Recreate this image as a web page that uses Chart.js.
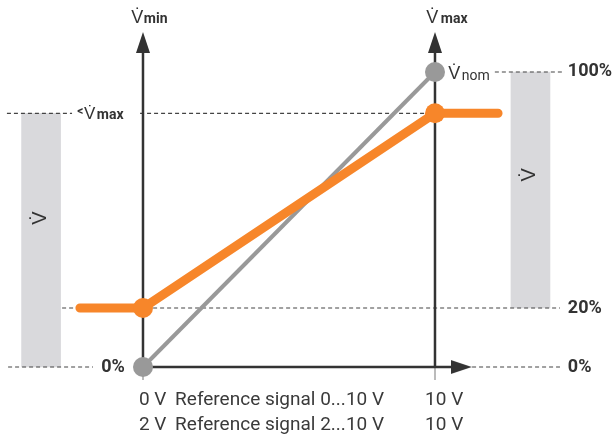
<!DOCTYPE html>
<html>
<head>
<meta charset="utf-8">
<script src="https://cdn.jsdelivr.net/npm/chart.js@4.4.1/dist/chart.umd.min.js"></script>
<style>
  html, body { margin: 0; padding: 0; background: #fff; }
  #wrap { width: 616px; height: 441px; }
</style>
</head>
<body>
<div id="wrap"><canvas id="chart"></canvas></div>
<script>
// x = reference signal (V, 0..10 scale), y = flow in % of V-nom
var nominalSignal = [0, 10];
var nominalFlow = [0, 100];
var limitedSignal = [-2.16, 0, 10, 12.16];
var limitedFlow = [20, 20, 86, 86];

// grey range bars beside the plot
var rangeBarSignal = [-3.49, 13.27];
var rangeBarFlow = [[0, 86], [20, 100]];

// dashed level lines
var levelFlow = [0, 0, 20, 86, 86, 100];
var levelFrom = [-4.62, 11.27, -2.77, -4.66, -0.1, 12.05];
var levelTo = [-1.71, 14.28, 14.28, -2.43, 10, 14.38];

var percentTicks = ["0%", "100%", "20%", "0%"];
var signalTexts = [
    ["0 V", "Reference signal 0...10 V", "10 V"],
    ["2 V", "Reference signal 2...10 V", "10 V"]
];

var DOT = "V\u0307";
var FONT = "Roboto, 'Liberation Sans', sans-serif";

function xy(xs, ys) {
    return xs.map(function (x, i) { return { x: x, y: ys[i] }; });
}

// arrow head drawn pointing up, used as a point style
function makeArrow() {
    var c = document.createElement("canvas");
    c.width = 14; c.height = 21;
    var g = c.getContext("2d");
    g.fillStyle = "#333";
    g.beginPath();
    g.moveTo(7, 0);
    g.lineTo(14, 21);
    g.lineTo(0, 21);
    g.closePath();
    g.fill();
    return c;
}
var arrow = makeArrow();

var labels = [
    { text: DOT, x: -0.4, y: 116.6, font: "18px " + FONT },
    { text: "min", x: 0.03, y: 116.6, font: "bold 14px " + FONT },
    { text: DOT, x: 9.7, y: 116.6, font: "18px " + FONT },
    { text: "max", x: 10.2, y: 116.6, font: "bold 14px " + FONT },
    { text: DOT, x: 10.45, y: 97.6, font: "18px " + FONT },
    { text: "nom", x: 10.92, y: 97.3, font: "14px " + FONT },
    { text: "<", x: -2.25, y: 85.5, font: "bold 12px " + FONT },
    { text: DOT, x: -2.02, y: 84.1, font: "17px " + FONT },
    { text: "max", x: -1.58, y: 84.1, font: "bold 14px " + FONT },
    { text: percentTicks[0], x: -0.62, y: 0, font: "bold 18px " + FONT, align: "right", base: "middle" },
    { text: percentTicks[1], x: 14.55, y: 100, font: "bold 18px " + FONT, base: "middle" },
    { text: percentTicks[2], x: 14.55, y: 20, font: "bold 18px " + FONT, base: "middle" },
    { text: percentTicks[3], x: 14.55, y: 0, font: "bold 18px " + FONT, base: "middle" },
    { text: DOT, x: -3.49, y: 50.5, font: "20px " + FONT, align: "center", base: "middle", rot: -Math.PI / 2 },
    { text: DOT, x: 13.27, y: 65.1, font: "20px " + FONT, align: "center", base: "middle", rot: -Math.PI / 2 }
];
var textCols = [-0.14, 1.1, 9.66];
var textRows = [-11.2, -19.7];
signalTexts.forEach(function (row, r) {
    row.forEach(function (t, c) {
        labels.push({ text: t, x: textCols[c], y: textRows[r], font: "19px " + FONT, color: "#3a3a3a", base: "middle" });
    });
});

var textPlugin = {
    id: "texts",
    afterDatasetsDraw: function (chart) {
        var ctx = chart.ctx, xs = chart.scales.x, ys = chart.scales.y;
        labels.forEach(function (l) {
            ctx.save();
            ctx.font = l.font;
            ctx.fillStyle = l.color || "#333";
            ctx.textAlign = l.align || "left";
            ctx.textBaseline = l.base || "alphabetic";
            ctx.translate(xs.getPixelForValue(l.x), ys.getPixelForValue(l.y));
            if (l.rot) ctx.rotate(l.rot);
            ctx.fillText(l.text, 0, 0);
            ctx.restore();
        });
    }
};

var datasets = [];

datasets.push({
    type: "bar",
    data: rangeBarSignal.map(function (x, i) { return { x: x, y: rangeBarFlow[i] }; }),
    backgroundColor: "#d9d9dc",
    barThickness: 39,
    order: 10
});

levelFlow.forEach(function (lv, i) {
    datasets.push({
        data: [{ x: levelFrom[i], y: lv }, { x: levelTo[i], y: lv }],
        borderColor: "#444",
        borderWidth: 1.2,
        borderDash: [4, 3],
        pointRadius: 0,
        order: 8
    });
});

// small stubs under the x axis
[0, 10].forEach(function (x) {
    datasets.push({
        data: [{ x: x, y: 0 }, { x: x, y: -4.4 }],
        borderColor: "#bbb",
        borderWidth: 2,
        pointRadius: 0,
        order: 7
    });
});

// axes with arrow heads
[[{ x: 0, y: 0 }, { x: 0, y: 110 }, 0],
 [{ x: 10, y: 0 }, { x: 10, y: 110 }, 0],
 [{ x: 0, y: 0 }, { x: 10.9, y: 0 }, 90]].forEach(function (a) {
    datasets.push({
        data: [a[0], a[1]],
        borderColor: "#333",
        borderWidth: 2.5,
        pointRadius: [0, 10],
        pointStyle: arrow,
        rotation: a[2],
        order: 6
    });
});

datasets.push({
    data: xy(nominalSignal, nominalFlow),
    borderColor: "#999",
    borderWidth: 4,
    pointRadius: 10,
    pointBackgroundColor: "#999",
    pointBorderWidth: 0,
    order: 2
});

datasets.push({
    data: xy(limitedSignal, limitedFlow),
    borderColor: "#f7862a",
    borderWidth: 9,
    borderCapStyle: "round",
    borderJoinStyle: "round",
    pointRadius: [0, 10, 10, 0],
    pointBackgroundColor: "#f7862a",
    pointBorderWidth: 0,
    order: 1
});

new Chart(document.getElementById("chart").getContext("2d"), {
    type: "line",
    data: { datasets: datasets },
    options: {
        responsive: true,
        maintainAspectRatio: false,
        animation: false,
        layout: { padding: 0, autoPadding: false },
        plugins: { legend: { display: false }, tooltip: { enabled: false } },
        scales: {
            x: { type: "linear", min: -4.897, max: 16.199, offset: false, display: false },
            y: { type: "linear", min: -25.08, max: 124.4, display: false }
        }
    },
    plugins: [textPlugin]
});
</script>
</body>
</html>
